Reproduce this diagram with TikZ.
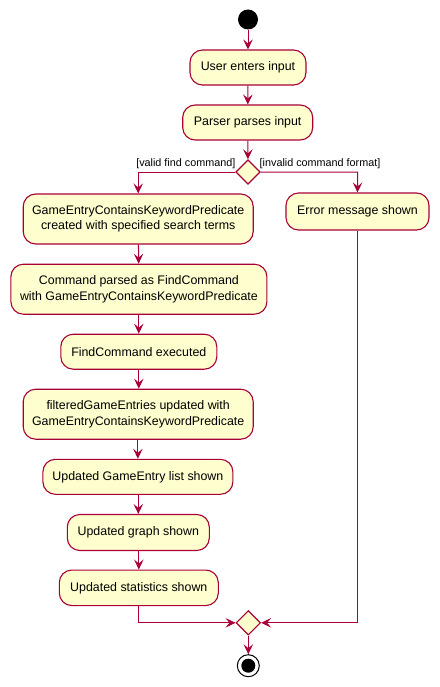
\documentclass[tikz,border=0pt]{standalone}
\usepackage{fontspec}
\setmainfont{Liberation Sans}
\usetikzlibrary{arrows.meta,shapes.geometric}
\definecolor{umlfill}{HTML}{FEFECE}
\definecolor{umlline}{HTML}{A80036}
\tikzset{
  act/.style={draw=umlline, fill=umlfill, line width=1.1pt, rounded corners=12.5pt,
    align=center, font=\fontsize{12.4}{15.2}\selectfont, inner sep=0pt},
  dec/.style={draw=umlline, fill=umlfill, line width=1.1pt, diamond, inner sep=0pt,
    minimum width=24.5pt, minimum height=24.5pt},
  flow/.style={draw=umlline, line width=1pt,
    -{Stealth[length=10pt,width=9.5pt,inset=4pt]}},
  guard/.style={font=\fontsize{10.8}{12}\selectfont, inner sep=0pt}
}
\begin{document}
\begin{tikzpicture}[x=1pt,y=-1pt]
\useasboundingbox (0,0) rectangle (439,687);
\node[fill=black, circle, minimum size=20pt, inner sep=0pt] (start) at (248,19.5) {};
\node[act, minimum width=116pt, minimum height=35pt] (u) at (248,67.5) {User enters input};
\node[act, minimum width=130pt, minimum height=35pt] (p) at (247.7,122.5) {Parser parses input};
\node[dec] (d1) at (248,172) {};
\node[act, minimum width=230pt, minimum height=50pt] (a1) at (138.2,219) {GameEntryContainsKeywordPredicate\\created with specified search terms};
\node[act, minimum width=256pt, minimum height=50pt] (a2) at (138.9,289.2) {Command parsed as FindCommand\\with GameEntryContainsKeywordPredicate};
\node[act, minimum width=156pt, minimum height=35pt] (a3) at (138.8,351.7) {FindCommand executed};
\node[act, minimum width=230pt, minimum height=50pt] (a4) at (138.2,414.2) {filteredGameEntries updated with\\GameEntryContainsKeywordPredicate};
\node[act, minimum width=190pt, minimum height=35pt] (a5) at (137.9,476.8) {Updated GameEntry list shown};
\node[act, minimum width=142pt, minimum height=36pt] (a6) at (138.3,532.5) {Updated graph shown};
\node[act, minimum width=159pt, minimum height=35.5pt] (a7) at (138.8,587.8) {Updated statistics shown};
\node[act, minimum width=143pt, minimum height=37pt] (e) at (357.5,211.5) {Error message shown};
\node[dec] (d2) at (248.3,622.8) {};
\node[circle, draw=black, fill=white, line width=1pt, minimum size=22pt, inner sep=0pt] (stop) at (248.3,665.7) {};
\node[circle, fill=black, minimum size=14pt, inner sep=0pt] at (stop.center) {};
\coordinate (lft) at (138.2,172);
\coordinate (rgt) at (357.6,172);
% flows
\draw[flow] (start) -- (u);
\draw[flow] (u) -- (p);
\draw[flow] (p) -- (d1);
\draw[flow] (d1.west) -- (lft) -- (a1.north);
\draw[flow] (d1.east) -- (rgt) -- (e.north);
\draw[flow] (a1) -- (a2);
\draw[flow] (a2.south -| a3.north) -- (a3.north);
\draw[flow] (a3) -- (a4.north -| a3.south);
\draw[flow] (a4.south -| a5.north) -- (a5.north);
\draw[flow] (a5.south -| a6.north) -- (a6.north);
\draw[flow] (a6.south -| a7.north) -- (a7.north);
\draw[flow] (a7.south) -- (a7.south |- d2.west) -- (d2.west);
\draw[flow] (e.south) -- (e.south |- d2.east) -- (d2.east);
\draw[flow] (d2) -- (stop);
\node[guard, anchor=south east] (g1) at (235.5,168.5) {[valid find command]};
\node[guard, anchor=south west] (g2) at (259.5,168.5) {[invalid command format]};
\end{tikzpicture}
\end{document}
